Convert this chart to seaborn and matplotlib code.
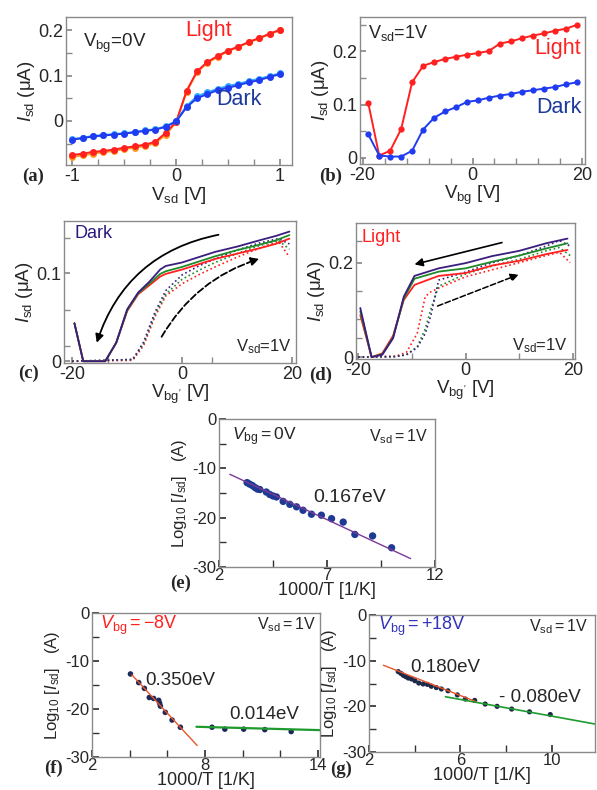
import numpy as np
import pandas as pd
import matplotlib
matplotlib.use('Agg')
import matplotlib.pyplot as plt
import seaborn as sns
from matplotlib.ticker import FixedLocator

# ---------------- data ----------------
# (a) I-V at Vbg = 0 V
vsd = [-1.0, -0.9, -0.8, -0.7, -0.6, -0.5, -0.4, -0.3, -0.2, -0.1, 0.0,
       0.1, 0.2, 0.3, 0.4, 0.5, 0.6, 0.7, 0.8, 0.9, 1.0]
light_a = [-0.075, -0.072, -0.068, -0.066, -0.063, -0.059, -0.056, -0.052, -0.046, -0.026, -0.002,
           0.066, 0.109, 0.130, 0.143, 0.155, 0.164, 0.174, 0.183, 0.192, 0.201]
light_a2 = [-0.079, -0.076, -0.072, -0.069, -0.066, -0.062, -0.059, -0.055, -0.049, -0.030, -0.003,
            0.064, 0.107, 0.128, 0.141, 0.154, 0.163, 0.173, 0.182, 0.191, 0.200]
dark_a = [-0.041, -0.038, -0.034, -0.032, -0.030, -0.028, -0.025, -0.022, -0.019, -0.013, -0.001,
          0.030, 0.050, 0.059, 0.068, 0.073, 0.079, 0.085, 0.090, 0.097, 0.103]
dark_a2 = [-0.040, -0.037, -0.033, -0.031, -0.029, -0.027, -0.024, -0.021, -0.018, -0.012, 0.000,
           0.033, 0.054, 0.063, 0.071, 0.077, 0.082, 0.088, 0.093, 0.099, 0.105]

# (b) transfer curves at Vsd = 1 V
vbg = [-19, -17, -15, -13, -11, -9, -7, -5, -3, -1, 1, 3, 5, 7, 9, 11, 13, 15, 17, 19]
light_b = [0.103, 0.004, 0.013, 0.054, 0.142, 0.173, 0.180, 0.186, 0.190, 0.194,
           0.197, 0.201, 0.215, 0.219, 0.225, 0.230, 0.234, 0.239, 0.243, 0.250]
dark_b = [0.044, 0.004, 0.002, 0.002, 0.013, 0.053, 0.075, 0.087, 0.095, 0.105,
          0.108, 0.113, 0.117, 0.120, 0.124, 0.127, 0.130, 0.133, 0.138, 0.142]

# (c) hysteresis, dark
xc_back = [-19.6, -18, -14, -12, -10, -8, -6, -4, -3, 0, 3, 6, 10, 14, 17, 19.5]
c_back_purple = [0.043, 0.0, 0.0, 0.021, 0.059, 0.078, 0.090, 0.104, 0.108, 0.112, 0.118, 0.124, 0.130, 0.137, 0.142, 0.147]
c_back_green = [0.043, 0.0, 0.0, 0.021, 0.058, 0.077, 0.088, 0.099, 0.102, 0.107, 0.113, 0.119, 0.126, 0.132, 0.137, 0.143]
c_back_red = [0.043, 0.0, 0.0, 0.021, 0.057, 0.076, 0.086, 0.096, 0.099, 0.104, 0.110, 0.116, 0.122, 0.128, 0.133, 0.139]
xc_fwd = [-20, -9, -7, -5, -3, 0, 3, 6, 10, 14, 17.5, 19.5]
c_fwd_purple = [0.0, 0.002, 0.022, 0.055, 0.080, 0.098, 0.108, 0.116, 0.126, 0.134, 0.139, 0.133]
c_fwd_green = [0.0, 0.002, 0.020, 0.052, 0.076, 0.093, 0.103, 0.112, 0.122, 0.131, 0.137, 0.127]
c_fwd_red = [0.0, 0.001, 0.018, 0.050, 0.074, 0.088, 0.098, 0.107, 0.118, 0.128, 0.136, 0.118]

# (d) hysteresis, light
xd_back = [-19.6, -17.5, -15.5, -13.5, -11.5, -9.5, -5, 0, 5, 10, 15, 19]
d_back_purple = [0.104, 0.0, 0.005, 0.040, 0.128, 0.172, 0.188, 0.199, 0.214, 0.225, 0.241, 0.251]
d_back_green = [0.097, 0.0, 0.006, 0.041, 0.124, 0.166, 0.181, 0.188, 0.202, 0.215, 0.230, 0.241]
d_back_red = [0.089, 0.0, 0.008, 0.045, 0.121, 0.153, 0.172, 0.178, 0.194, 0.204, 0.218, 0.227]
xd_fwd = [-20, -13, -11, -9, -7.5, -6.5, -5, 0, 5, 10, 15, 17.5, 19.5]
d_fwd_purple = [0.0, 0.001, 0.005, 0.020, 0.050, 0.086, 0.163, 0.180, 0.200, 0.215, 0.235, 0.247, 0.235]
d_fwd_green = [0.0, 0.001, 0.005, 0.022, 0.060, 0.100, 0.150, 0.176, 0.193, 0.207, 0.225, 0.232, 0.215]
d_fwd_red = [0.0, 0.002, 0.010, 0.050, 0.128, 0.138, 0.146, 0.170, 0.185, 0.200, 0.215, 0.222, 0.200]

# (e) Arrhenius, Vbg = 0 V
inv_t_e = [3.30, 3.42, 3.55, 3.67, 3.78, 3.89, 4.19, 4.35, 4.50, 4.66, 4.97, 5.28,
           5.59, 5.89, 6.28, 6.74, 7.21, 7.75, 8.29, 9.11, 9.99]
log_i_e = [-12.9, -13.2, -13.5, -13.9, -14.2, -14.3, -14.8, -15.3, -15.6, -15.8, -16.7, -17.3,
           -17.8, -18.5, -19.3, -19.5, -20.2, -20.9, -23.4, -23.7, -26.1]
fit_x_e = [2.5, 10.87]
fit_y_e = [-11.2, -28.3]

# (f) Arrhenius, Vbg = -8 V
inv_t_f = [4.04, 4.48, 4.78, 5.04, 5.27, 5.54, 5.59, 5.63, 5.89, 6.25, 6.69,
           8.37, 9.05, 10.05, 11.17, 12.57]
log_i_f = [-12.7, -14.5, -15.7, -17.6, -17.8, -18.2, -18.8, -19.4, -20.7, -22.3, -23.8,
           -23.8, -24.2, -24.2, -24.3, -24.7]
fit1_x_f = [4.12, 7.58]
fit1_y_f = [-12.9, -27.6]
fit2_x_f = [7.54, 14.1]
fit2_y_f = [-23.7, -24.4]

# (g) Arrhenius, Vbg = +18 V
inv_t_g = [3.28, 3.40, 3.50, 3.61, 3.72, 3.86, 4.01, 4.18, 4.37, 4.56, 4.73, 4.95, 5.17,
           5.46, 5.87, 6.22, 6.63, 7.09, 7.61, 8.25, 9.03, 9.94]
log_i_g = [-12.4, -12.8, -13.2, -13.5, -13.8, -14.0, -14.4, -14.9, -15.1, -15.2, -15.6, -15.9, -16.2,
           -16.6, -17.5, -18.4, -18.7, -19.5, -20.0, -20.6, -21.2, -21.8]
fit1_x_g = [2.63, 6.7]
fit1_y_g = [-11.0, -19.0]
fit2_x_g = [5.35, 11.93]
fit2_y_g = [-17.9, -23.9]

# ---------------- style ----------------
sns.set_theme(style='ticks')
plt.rcParams['font.family'] = ['Liberation Sans', 'DejaVu Sans']
plt.rcParams.update({
    'mathtext.fontset': 'custom',
    'mathtext.rm': 'Liberation Sans',
    'mathtext.it': 'Liberation Sans:italic',
    'axes.unicode_minus': False,
    'axes.edgecolor': '#8a8a8a',
    'axes.linewidth': 1.0,
})

RED = '#ff2020'
ORANGE = '#ff9a20'
BLUE = '#1f3cf0'
CYAN = '#30a8ff'
NAVY = '#1c3a9c'
PURPLE = '#3b1d7e'
GREEN = '#1e8a2a'
GREY = '#8a8a8a'

W, H = 597, 790
fig = plt.figure(figsize=(W / 100, H / 100), dpi=100)


def add_ax(left, top, right, bottom):
    return fig.add_axes([left / W, 1 - bottom / H, (right - left) / W, (bottom - top) / H])


def style_ax(ax, size=13):
    ax.tick_params(which='both', direction='in', color=GREY, labelsize=size, pad=2,
                   top=False, right=False)
    ax.tick_params(which='major', length=4)
    ax.tick_params(which='minor', length=4)


def panel_label(x, y, s):
    fig.text(x / W, 1 - y / H, s, fontsize=13.5, fontweight='bold',
             family='Liberation Serif', va='center', ha='left')


# ---------------- (a) ----------------
ax = add_ax(66, 17, 292, 165)
df_a = pd.DataFrame({
    'V': vsd * 4,
    'I': light_a2 + light_a + dark_a2 + dark_a,
    'run': ['L2'] * 21 + ['L1'] * 21 + ['D2'] * 21 + ['D1'] * 21,
})
sns.lineplot(data=df_a, x='V', y='I', hue='run', ax=ax, sort=False, estimator=None,
             palette={'L2': ORANGE, 'L1': RED, 'D2': CYAN, 'D1': BLUE},
             marker='o', markersize=5, markeredgewidth=0, linewidth=1.4, legend=False)
ax.set_xlim(-1.06, 1.115)
ax.set_ylim(-0.097, 0.229)
ax.set_xticks([-1, 0, 1])
ax.set_yticks([0, 0.1, 0.2])
ax.set_yticklabels(['0', '0.1', '0.2'])
ax.xaxis.set_minor_locator(FixedLocator([-0.75, -0.5, -0.25, 0.25, 0.5, 0.75]))
ax.yaxis.set_minor_locator(FixedLocator([-0.05, 0.05, 0.15]))
style_ax(ax)
ax.set_xlabel(r'V$_{\rm sd}$ [V]', fontsize=13.5, labelpad=0)
ax.set_ylabel(r'$\mathit{I}_{\rm sd}$ (μA)', fontsize=13.5, labelpad=1)
ax.text(-0.9, 0.171, r'V$_{\rm bg}$=0V', fontsize=13.5, va='center')
ax.text(0.09, 0.2, 'Light', color=RED, fontsize=15.5, va='center')
ax.text(0.385, 0.048, 'Dark', color=NAVY, fontsize=15.5, va='center')
panel_label(22, 176, '(a)')

# ---------------- (b) ----------------
ax = add_ax(360, 17, 585, 164)
df_b = pd.DataFrame({'Vbg': vbg * 2, 'I': light_b + dark_b,
                     'cond': ['Light'] * 20 + ['Dark'] * 20})
sns.lineplot(data=df_b, x='Vbg', y='I', hue='cond', ax=ax, sort=False, estimator=None,
             palette={'Light': RED, 'Dark': BLUE}, marker='o', markersize=4.5,
             markeredgewidth=0, linewidth=1.4, legend=False)
ax.set_xlim(-20.5, 20.5)
ax.set_ylim(-0.012, 0.265)
ax.set_xticks([-20, 0, 20])
ax.set_yticks([0, 0.1, 0.2])
ax.set_yticklabels(['0', '0.1', '0.2'])
ax.xaxis.set_minor_locator(FixedLocator([-16, -12, -8, -4, 4, 8, 12, 16]))
ax.yaxis.set_minor_locator(FixedLocator([0.05, 0.15, 0.25]))
style_ax(ax)
ax.set_xlabel(r'V$_{\rm bg}$ [V]', fontsize=13.5, labelpad=0)
ax.set_ylabel(r'$\mathit{I}_{\rm sd}$ (μA)', fontsize=13.5, labelpad=1)
ax.text(-19.1, 0.234, r'V$_{\rm sd}$=1V', fontsize=13, va='center')
ax.text(19.8, 0.205, 'Light', color=RED, fontsize=15.5, va='center', ha='right')
ax.text(19.8, 0.095, 'Dark', color=NAVY, fontsize=15.5, va='center', ha='right')
panel_label(319, 176, '(b)')


def hysteresis(ax, xb, backs, xf, fwds):
    cols = [RED, GREEN, PURPLE]
    for y, c in zip(fwds, cols):
        sns.lineplot(x=xf, y=y, ax=ax, color=c, linestyle=':', linewidth=1.2,
                     sort=False, estimator=None)
    for y, c in zip(backs, cols):
        sns.lineplot(x=xb, y=y, ax=ax, color=c, linewidth=1.3,
                     sort=False, estimator=None)


# ---------------- (c) ----------------
ax = add_ax(64, 221, 296, 363)
hysteresis(ax, xc_back, [c_back_red, c_back_green, c_back_purple],
           xc_fwd, [c_fwd_red, c_fwd_green, c_fwd_purple])
ax.set_xlim(-21.5, 20.7)
ax.set_ylim(-0.002, 0.159)
ax.set_xticks([-20, 0, 20])
ax.set_yticks([0, 0.1])
ax.set_yticklabels(['0', '0.1'])
ax.xaxis.set_minor_locator(FixedLocator([-13.5, 5.5]))
ax.yaxis.set_minor_locator(FixedLocator([0.017, 0.058, 0.14]))
style_ax(ax)
ax.set_xlabel(r"V$_{\rm bg'}$ [V]", fontsize=13.5, labelpad=0)
ax.set_ylabel(r'$\mathit{I}_{\rm sd}$ (μA)', fontsize=13.5, labelpad=1)
ax.annotate('', xy=(-15.7, 0.018), xytext=(7.1, 0.144),
            arrowprops=dict(arrowstyle='-|>', color='black', lw=1.3,
                            connectionstyle='arc3,rad=0.3', mutation_scale=12))
ax.annotate('', xy=(14.5, 0.117), xytext=(-4, 0.025),
            arrowprops=dict(arrowstyle='-|>', color='black', lw=1.3, linestyle='--',
                            connectionstyle='arc3,rad=-0.2', mutation_scale=12))
ax.text(-19.5, 0.145, 'Dark', color='#2a1a80', fontsize=13, va='center')
ax.text(20, 0.017, r'V$_{\rm sd}$=1V', fontsize=12, va='center', ha='right')
panel_label(18, 373, '(c)')

# ---------------- (d) ----------------
ax = add_ax(356, 223, 575, 359)
hysteresis(ax, xd_back, [d_back_red, d_back_green, d_back_purple],
           xd_fwd, [d_fwd_red, d_fwd_green, d_fwd_purple])
ax.set_xlim(-20.4, 20.4)
ax.set_ylim(-0.004, 0.284)
ax.set_xticks([-20, 0, 20])
ax.set_yticks([0, 0.2])
ax.set_yticklabels(['0', '0.2'])
ax.xaxis.set_minor_locator(FixedLocator([-10, 10]))
ax.yaxis.set_minor_locator(FixedLocator([0.04, 0.08, 0.14, 0.245]))
style_ax(ax)
ax.set_xlabel(r"V$_{\rm bg'}$ [V]", fontsize=13.5, labelpad=0)
ax.set_ylabel(r'$\mathit{I}_{\rm sd}$ (μA)', fontsize=13.5, labelpad=1)
ax.annotate('', xy=(-10, 0.195), xytext=(7.3, 0.244),
            arrowprops=dict(arrowstyle='-|>', color='black', lw=1.2, mutation_scale=12))
ax.annotate('', xy=(10.4, 0.177), xytext=(-5.7, 0.106),
            arrowprops=dict(arrowstyle='-|>', color='black', lw=1.1, linestyle='--',
                            mutation_scale=12))
ax.text(-19.3, 0.254, 'Light', color=RED, fontsize=13, va='center')
ax.text(19.1, 0.024, r'V$_{\rm sd}$=1V', fontsize=12, va='center', ha='right')
panel_label(309, 375, '(d)')

LOGLAB = r'Log$_{10}$ [$\mathit{I}_{\rm sd}$]   (A)'


def arrhenius_ax(ax, xlim, xmaj, xmin):
    ax.set_xlim(*xlim)
    ax.set_ylim(-30, 0)
    ax.set_xticks(xmaj)
    ax.set_yticks([-30, -20, -10, 0])
    ax.xaxis.set_minor_locator(FixedLocator(xmin))
    ax.yaxis.set_minor_locator(FixedLocator([-25, -15, -5]))
    style_ax(ax, 12)
    ax.tick_params(which='both', length=5, color='#333333')
    ax.tick_params(axis='x', pad=1)
    ax.set_xlabel('1000/T [1/K]', fontsize=13, labelpad=-1)
    ax.set_ylabel(LOGLAB, fontsize=12, labelpad=2)


# ---------------- (e) ----------------
ax = add_ax(219, 419, 435, 567)
sns.lineplot(x=fit_x_e, y=fit_y_e, ax=ax, color='#7a3a9a', linewidth=1.0)
sns.scatterplot(x=inv_t_e, y=log_i_e, ax=ax, color='#1f3a93', s=28, edgecolor='none')
arrhenius_ax(ax, (2, 12), [2, 7, 12], [4.5, 9.5])
ax.text(2.6, -3.65, r'$\mathit{V}_{\rm bg}=$0V', fontsize=12.5, va='center')
ax.text(11.7, -3.6, r'V$_{\rm sd}=$1V', fontsize=11.5, va='center', ha='right')
ax.text(6.35, -16.0, '0.167eV', fontsize=14, va='center')
panel_label(170, 583, '(e)')

# ---------------- (f) ----------------
ax = add_ax(92, 613, 320, 757)
sns.lineplot(x=fit1_x_f, y=fit1_y_f, ax=ax, color='#e8552a', linewidth=1.0)
sns.lineplot(x=fit2_x_f, y=fit2_y_f, ax=ax, color='#1f9a2e', linewidth=1.6)
sns.scatterplot(x=inv_t_f, y=log_i_f, ax=ax, color='#1c2a5a', s=16, edgecolor='none')
arrhenius_ax(ax, (2, 14.1), [2, 8, 14], [4, 6, 10, 12])
ax.text(2.4, -2.5, r'$\mathit{V}_{\rm bg}=-$8V', color=RED, fontsize=13, va='center')
ax.text(13.9, -2.5, r'V$_{\rm sd}=$1V', fontsize=11.5, va='center', ha='right')
ax.text(4.8, -14.0, '0.350eV', fontsize=13.5, va='center')
ax.text(9.3, -21.2, '0.014eV', fontsize=13.5, va='center')
panel_label(44, 768, '(f)')

# ---------------- (g) ----------------
ax = add_ax(369, 615, 595, 752)
sns.lineplot(x=fit1_x_g, y=fit1_y_g, ax=ax, color='#e8552a', linewidth=1.0)
sns.lineplot(x=fit2_x_g, y=fit2_y_g, ax=ax, color='#1f9a2e', linewidth=1.2)
sns.scatterplot(x=inv_t_g, y=log_i_g, ax=ax, color='#1c2a4a', s=14, edgecolor='none')
arrhenius_ax(ax, (2, 11.9), [2, 6, 10], [4, 8])
ax.text(2.4, -2.6, r'$\mathit{V}_{\rm bg}=$+18V', color='#3333bb', fontsize=13, va='center')
ax.text(11.6, -2.6, r'V$_{\rm sd}=$1V', fontsize=11.5, va='center', ha='right')
ax.text(3.8, -11.6, '0.180eV', fontsize=13.5, va='center')
ax.text(7.7, -18.0, '- 0.080eV', fontsize=13.5, va='center')
panel_label(330, 769, '(g)')

fig.savefig('out.png', dpi=100)
